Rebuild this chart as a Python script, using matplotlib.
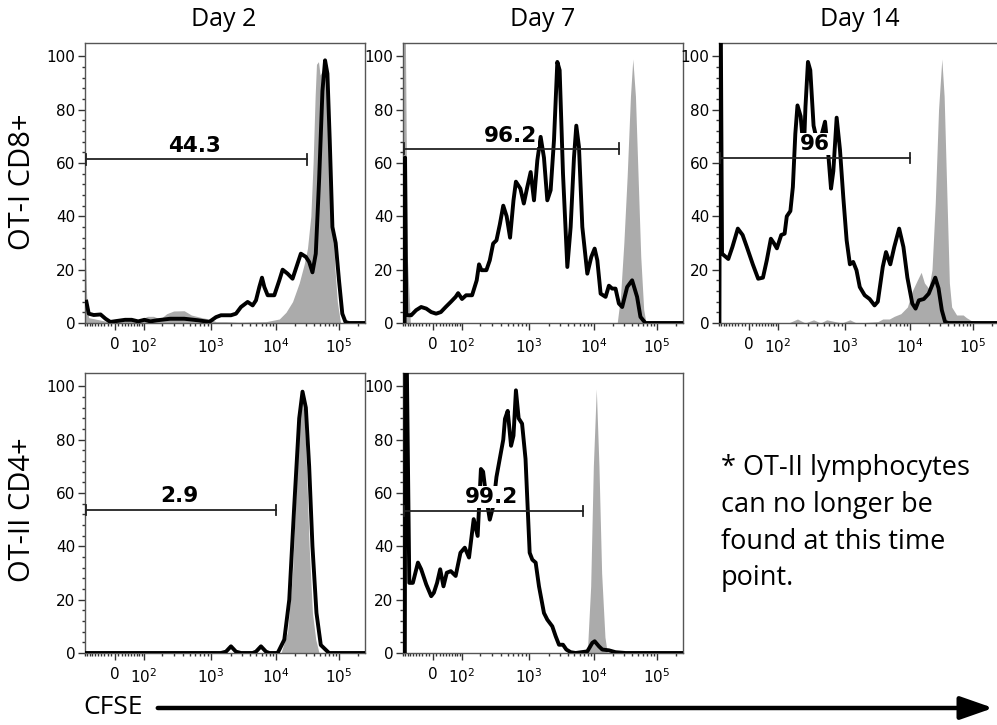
import numpy as np
import matplotlib
matplotlib.use("Agg")
import matplotlib.pyplot as plt
from matplotlib.patches import FancyArrowPatch

# CFSE histograms: x = fluorescence intensity, y = % of max
# stained (black line) and undivided control (grey fill)

d2_cd8_x = [-94, -84, -65, -42, -27, -13, 2, 30, 51, 75, 102, 129, 163, 261, 416, 664, 944,
            1194, 1425, 2030, 2424, 2895, 3666, 4375, 4922, 5540, 6090, 6620, 7450, 9420,
            11290, 12740, 15270, 18310, 20700, 24800, 29770, 33600, 37900, 42800, 48300,
            54600, 60100, 65500, 71300, 78600, 88600, 100000, 113000, 127000, 144000, 262000]
d2_cd8_y = [8, 3.5, 3, 3.2, 1.6, 0.4, 0.7, 1.2, 1.2, 0.6, 1.2, 0.6, 1, 1.6, 1.6, 1, 0.4,
            2.2, 2.9, 2.9, 3.5, 6, 7.9, 6.6, 8.5, 13.5, 17, 13.5, 10.4, 10.4,
            16, 20, 18.5, 16.6, 20.4, 26, 24.8, 22.9, 19, 26, 53.5,
            87, 98.5, 93.5, 68.5, 36, 30, 16, 3.5, 0.4, 0, 0]
d2_cd8_ctl_x = [-100, -98, -91, -84, -27, 30, 40, 75, 115, 145, 184, 232, 293, 416, 526, 746,
                944, 1194, 1700, 2730, 7020, 11290, 14380, 18310, 23350, 28000, 31600, 35700,
                38800, 41800, 43900, 47200, 50100, 55800, 63100, 69500, 78600, 86500, 94100,
                106000]
d2_cd8_ctl_y = [0, 25, 5, 2, 0.7, 0.8, 1.5, 1, 2.5, 2.5, 1.5, 3.5, 4.5, 4.6, 3, 2,
                1.5, 0.5, 0.5, 0.3, 0.5, 1.5, 4, 8, 15, 22, 28, 40,
                60, 85, 97, 98, 93, 95, 90, 70, 40, 20, 8, 0]

d7_cd8_x = [-93, -91, -86, -74, -67, -50, -34, -19, -5, 9, 23, 38, 55, 73, 83, 100, 118, 148,
            175, 190, 207, 245, 275, 308, 344, 385, 431, 482, 539, 603, 653, 755, 845, 946,
            1061, 1194, 1344, 1512, 1700, 1914, 2154, 2424, 2730, 2963, 3336, 3890, 4375,
            4922, 5345, 5875, 6615, 7890, 9090, 10240, 11290, 12740, 15270, 17250, 19460,
            21970, 24820, 28010, 33600, 40270, 48300, 54600, 65440, 262000]
d7_cd8_y = [0, 62, 3, 2.9, 2.9, 4.8, 6, 5.4, 4.1, 3.5, 4.1, 6, 7.9, 9.8, 11.2, 9, 10.4, 10.4,
            16, 22, 19.8, 19.8, 23.5, 29.8, 31, 37, 44, 40, 32, 46, 53, 50.4, 44.8, 51,
            56.6, 46, 61, 69.8, 62, 46, 49.8, 68.5, 97.9, 94.8, 56, 21, 36,
            62, 74, 66, 36, 18.5, 24.8, 27.9, 23.5, 11, 9.8, 14, 12.9,
            12.9, 7.3, 6, 13.5, 16, 9.8, 2.3, 0, 0]
d7_cd8_ctl_x = [-100, -90, -82, -70, 23350, 26360, 29770, 33600, 37900, 41300, 45500, 50100,
                55200, 61500, 67000]
d7_cd8_ctl_y = [110, 110, 25, 0, 0, 10, 30, 55, 85, 99, 85, 55, 25, 5, 0]

d14_cd8_x = [-98, -96, -92, -87, -63, -49, -32, -18, -6, 11, 27, 42, 55, 70, 83, 95, 114, 130,
             141, 161, 176, 192, 207, 231, 257, 272, 296, 320, 357, 420, 521, 581, 634, 684,
             762, 849, 947, 1060, 1190, 1337, 1503, 1688, 2010, 2393, 2850, 3200, 3810, 4276,
             4977, 5725, 6810, 7925, 9120, 10870, 12270, 13830, 16560, 19820, 25180, 28380,
             32000, 36060, 40640, 262000]
d14_cd8_y = [0, 110, 110, 26, 24, 28.5, 35.4, 33, 28.5, 22, 16.6, 17, 23.5, 31.6, 29.8, 28, 33,
             33.5, 40, 42, 51, 71, 81.6, 77.5, 64, 81, 97.9, 94.8, 74, 66, 75.5, 63, 50.4, 57,
             77, 65, 47, 31, 22, 22.9, 19.8, 13.5, 10.4, 9, 6.6, 8, 21, 26.6,
             22, 28.5, 35.4, 28.5, 17, 7.3, 5.4, 8.5, 9, 11, 17, 13,
             4.8, 0.4, 0, 0]
d14_cd8_ctl_x = [150, 207, 270, 357, 450, 550, 900, 1190, 1500, 3200, 3810, 4810, 5725, 7230,
                 9120, 10870, 13020, 15030, 16950, 19820, 22350, 25180, 28380, 32000, 34830,
                 38300, 42170, 45840, 54950, 69780, 78700, 100000, 127000]
d14_cd8_ctl_y = [0, 1.5, 0, 1.2, 0, 1.2, 0, 1.2, 0, 0.5, 1.5, 1.5, 2.5, 3.5,
                 6, 12, 16, 19, 15, 13, 20, 45, 80, 99, 85,
                 50, 15, 6, 3, 3, 2, 0.5, 0]

d2_cd4_x = [-95, 1425, 1700, 2030, 2424, 2895, 4375, 4922, 5875, 7020, 7890, 10630, 13540,
            16240, 19460, 23350, 26360, 29770, 33600, 37900, 43900, 51400, 69500, 262000]
d2_cd4_y = [0, 0, 0.5, 2.5, 0.5, 0, 0, 0.5, 2.5, 0.5, 0, 0, 5,
            20, 55, 88, 98, 92, 70, 40, 15, 3, 0, 0]
d2_cd4_ctl_x = [11990, 15270, 18310, 20700, 23350, 24800, 28000, 30480, 33600, 37900, 42800,
                48300]
d2_cd4_ctl_y = [0, 8, 30, 60, 90, 97, 90, 70, 40, 15, 5, 0]

d7_cd4_x = [-92, -90, -84, -74, -61, -44, -34, -19, -5, 2.5, 11.8, 21, 31, 41.5, 55, 73, 93,
            112, 132, 157, 181, 203, 219, 245, 275, 308, 344, 385, 431, 456, 499, 557, 603,
            653, 714, 798, 893, 946, 1024, 1125, 1267, 1425, 1700, 1914, 2284, 2573, 2895,
            3336, 3753, 4375, 5224, 7890, 9420, 10240, 11990, 13540, 17250, 21970, 31620,
            262000]
d7_cd4_y = [0, 110, 110, 26.3, 26.3, 33.9, 31.4, 25.7, 21.3, 22.6, 26.3, 31.4, 25, 30.1, 30.7,
            28.9, 37.6, 39.5, 35.8, 50.2, 43.9, 69, 68, 58, 50, 55, 66, 73, 80, 87.8, 90.8,
            77.7, 81.5, 98.5, 88, 86, 72.8, 57.7, 37.6, 35, 33.9, 25, 15, 12.5, 10, 6.3, 3.1,
            3.1, 1.3, 0.3, 0, 0.6, 3.8, 4.4, 2.5, 1.3, 1, 0.3, 0, 0]
d7_cd4_ctl_x = [7890, 8890, 9770, 10880, 11990, 13220, 14920, 16240]
d7_cd4_ctl_y = [0, 25, 70, 99, 70, 30, 6, 0]

# gates: right end of the "divided" gate, gate height, label and its position
gate_end = [31600, 24800, 10000, 10000, 6780]
gate_y = [61.4, 65.4, 61.9, 53.6, 53.3]
gate_pct = ["44.3", "96.2", "96", "2.9", "99.2"]
label_x = [592, 539, 376, 349, 291]
label_y = [64.1, 67.9, 64.8, 56.5, 56.2]

col_titles = ["Day 2", "Day 7", "Day 14"]
row_titles = ["OT-I CD8+", "OT-II CD4+"]
x_major = [0, 100, 1000, 10000, 100000]
x_major_labels = ["0", "$10^2$", "$10^3$", "$10^4$", "$10^5$"]

# biexponential display: arcsinh core, then a piecewise-linear warp so the
# decade ticks land where the cytometry software puts them
W = 40.0


def asinh_core(v):
    return np.arcsinh(np.asarray(v, dtype=float) / (2 * W)) / np.log(10) + np.log10(W)


def asinh_core_inv(t):
    return 2 * W * np.sinh((np.asarray(t, dtype=float) - np.log10(W)) * np.log(10))


X_LIM = (-100, 262144)
warp_g = asinh_core([X_LIM[0], 0, 100, 1000, 10000, 100000, X_LIM[1]])
warp_p = [0, 30, 59, 126, 191, 254, 280]


def biex(v):
    return np.interp(asinh_core(v), warp_g, warp_p)


def biex_inv(p):
    return asinh_core_inv(np.interp(np.asarray(p, dtype=float), warp_p, warp_g))


x_minor = ([-100, -90, -80, -70, -60, -50, -40, -30, -20, -10]
           + [10, 20, 30, 40, 50, 60, 70, 80, 90]
           + [m * 10 ** e for e in (2, 3, 4) for m in range(2, 10)] + [200000])

FW, FH = 997, 725
fig = plt.figure(figsize=(FW / 100, FH / 100), dpi=100)


def add_panel(left, top, width=280, height=280):
    return fig.add_axes([left / FW, (FH - top - height) / FH, width / FW, height / FH])


axes = [add_panel(85, 43), add_panel(403, 43), add_panel(719, 43),
        add_panel(85, 373), add_panel(403, 373)]

traces = [(d2_cd8_x, d2_cd8_y, d2_cd8_ctl_x, d2_cd8_ctl_y),
          (d7_cd8_x, d7_cd8_y, d7_cd8_ctl_x, d7_cd8_ctl_y),
          (d14_cd8_x, d14_cd8_y, d14_cd8_ctl_x, d14_cd8_ctl_y),
          (d2_cd4_x, d2_cd4_y, d2_cd4_ctl_x, d2_cd4_ctl_y),
          (d7_cd4_x, d7_cd4_y, d7_cd4_ctl_x, d7_cd4_ctl_y)]

for i, ax in enumerate(axes):
    bx, by, gx, gy = traces[i]
    ax.set_xscale("function", functions=(biex, biex_inv))
    ax.set_xlim(*X_LIM)
    ax.set_ylim(0, 105)

    ax.fill_between(gx, gy, 0, color="#ababab", lw=0, zorder=1)
    ax.plot(bx, by, color="black", lw=2.8, solid_joinstyle="round", zorder=3)

    # gate bar with end caps
    x0, x1, gy0 = -95, gate_end[i], gate_y[i]
    ax.plot([x0, x1], [gy0, gy0], color="#222222", lw=1.3, zorder=6)
    ax.plot([x0, x0], [gy0 - 2, gy0 + 2], color="#222222", lw=1.3, zorder=6)
    ax.plot([x1, x1], [gy0 - 2, gy0 + 2], color="#222222", lw=1.3, zorder=6)
    ax.text(label_x[i], label_y[i], gate_pct[i], ha="center", va="baseline",
            fontsize=15.5, fontweight="bold", zorder=5,
            bbox=dict(fc="white", ec="none", pad=1))

    ax.set_xticks(x_major, labels=x_major_labels)
    ax.set_xticks(x_minor, minor=True)
    ax.set_yticks([0, 20, 40, 60, 80, 100])
    ax.set_yticks(np.arange(0, 104, 4), minor=True)
    ax.tick_params(which="both", direction="out", color="#333333", width=1,
                   labelsize=11, pad=2)
    ax.tick_params(axis="x", which="major", pad=5)
    ax.tick_params(which="major", length=5)
    ax.tick_params(which="minor", length=2.5)
    for s in ax.spines.values():
        s.set_color("#555555")
        s.set_linewidth(1.0)

title_font = dict(family="Open Sans", fontsize=18, color="black")
for cx, t in zip([224, 543, 860], col_titles):
    fig.text(cx / FW, 1 - 20 / FH, t, ha="center", va="center", **title_font)
for cy, t in zip([182, 510], row_titles):
    fig.text(22 / FW, 1 - cy / FH, t, ha="center", va="center", rotation=90,
             family="Open Sans", fontsize=21)

fig.text(721 / FW, 1 - 454 / FH,
         "* OT-II lymphocytes\ncan no longer be\nfound at this time\npoint.",
         ha="left", va="top", linespacing=1.42, family="Open Sans", fontsize=19.5)

fig.text(83 / FW, 1 - 707 / FH, "CFSE", ha="left", va="center",
         family="Open Sans", fontsize=19)
arrow = FancyArrowPatch((155 / FW, 1 - 708 / FH), (996 / FW, 1 - 708 / FH),
                        transform=fig.transFigure,
                        arrowstyle="-|>,head_length=1.0,head_width=0.35",
                        mutation_scale=20, lw=3.2, color="black")
fig.add_artist(arrow)

fig.savefig("out.png", dpi=100, facecolor="white")
